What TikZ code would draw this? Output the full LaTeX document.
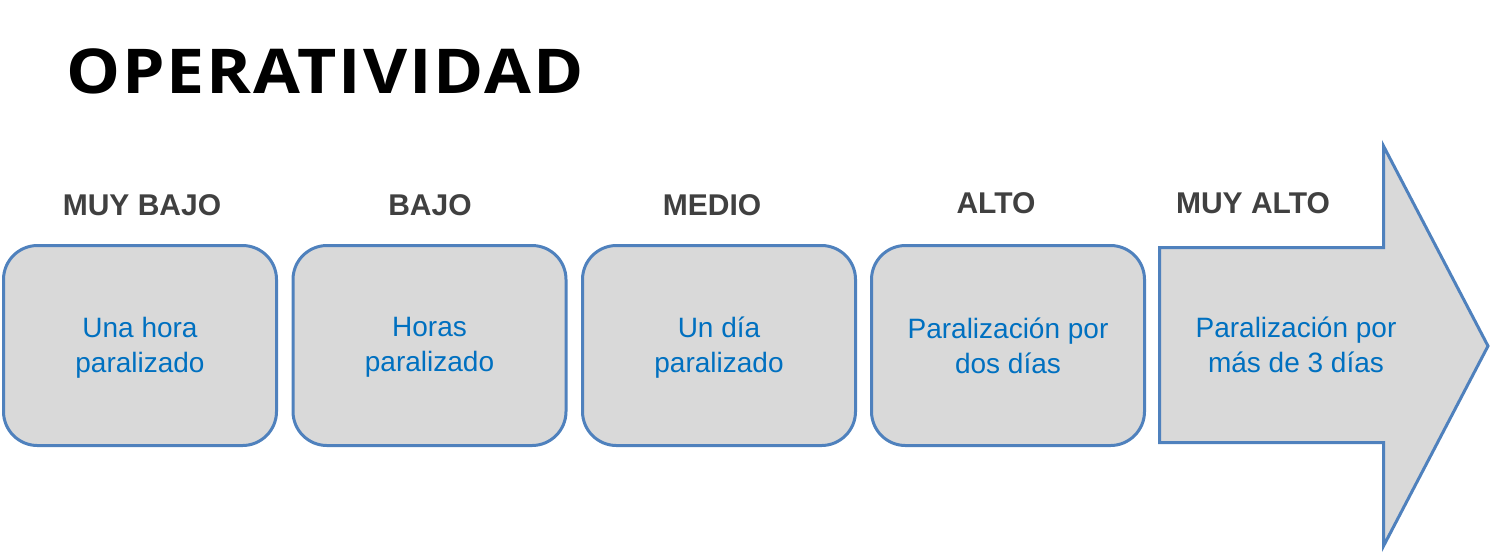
\documentclass[tikz,border=0pt]{standalone}
\usepackage{fontspec}
\setmainfont{Liberation Sans}
\newfontfamily\titlefont[FakeStretch=1.1, LetterSpace=3]{Open Sans}
\usepackage{xcolor}
\definecolor{frameblue}{HTML}{4F81BD}
\definecolor{boxgray}{HTML}{D9D9D9}
\definecolor{levelgray}{HTML}{404040}
\definecolor{textblue}{HTML}{0070C0}
\tikzset{
  levelbox/.style={draw=frameblue, fill=boxgray, line width=1.5pt,
    rounded corners=17pt, minimum width=136.5pt, minimum height=100pt,
    inner sep=0pt},
  boxtext/.style={text=textblue, font=\fontsize{14}{17.5}\selectfont,
    align=center},
  levellabel/.style={text=levelgray, font=\fontsize{15}{18}\selectfont\bfseries,
    anchor=base}
}

\begin{document}
\begin{tikzpicture}[x=0.5pt, y=-0.5pt]
  \useasboundingbox (0,0) rectangle (1493,554);

  % title
  \node[anchor=base west, inner sep=0pt, font=\titlefont\fontsize{30.9}{36}\selectfont\bfseries]
    (title) at (66,93) {OPERATIVIDAD};

  % rounded boxes
  \node[levelbox] (muybajo) at (140,345.5) {};
  \node[levelbox] (bajo) at (429.5,345.5) {};
  \node[levelbox] (medio) at (719,345.5) {};
  \node[levelbox] (alto) at (1008,345.5) {};

  % big arrow
  \draw[draw=frameblue, fill=boxgray, line width=1.5pt, line join=miter]
    (1159.5,247.5) -- (1383.5,247.5) -- (1383.5,146) -- (1488,346)
    -- (1383.5,546) -- (1383.5,442.5) -- (1159.5,442.5) -- cycle;
  \coordinate (muyalto) at (1296,344.5);

  % texts inside
  \node[boxtext] (tmuybajo) at ([yshift=-1pt]muybajo) {Una hora\\paralizado};
  \node[boxtext] (tbajo) at ([yshift=-1pt]bajo) {Horas\\paralizado};
  \node[boxtext] (tmedio) at ([yshift=-1pt]medio) {Un día\\paralizado};
  \node[boxtext] (talto) at (alto) {Paralización por\\dos días};
  \node[boxtext] (tmuyalto) at (muyalto) {Paralización por\\más de 3 días};

  % level names
  \node[levellabel] (lmuybajo) at (142,215) {MUY BAJO};
  \node[levellabel] (lbajo) at (430,215) {BAJO};
  \node[levellabel] (lmedio) at (712,215) {MEDIO};
  \node[levellabel] (lalto) at (996,213) {ALTO};
  \node[levellabel] (lmuyalto) at (1253,213) {MUY ALTO};
\end{tikzpicture}
\end{document}
